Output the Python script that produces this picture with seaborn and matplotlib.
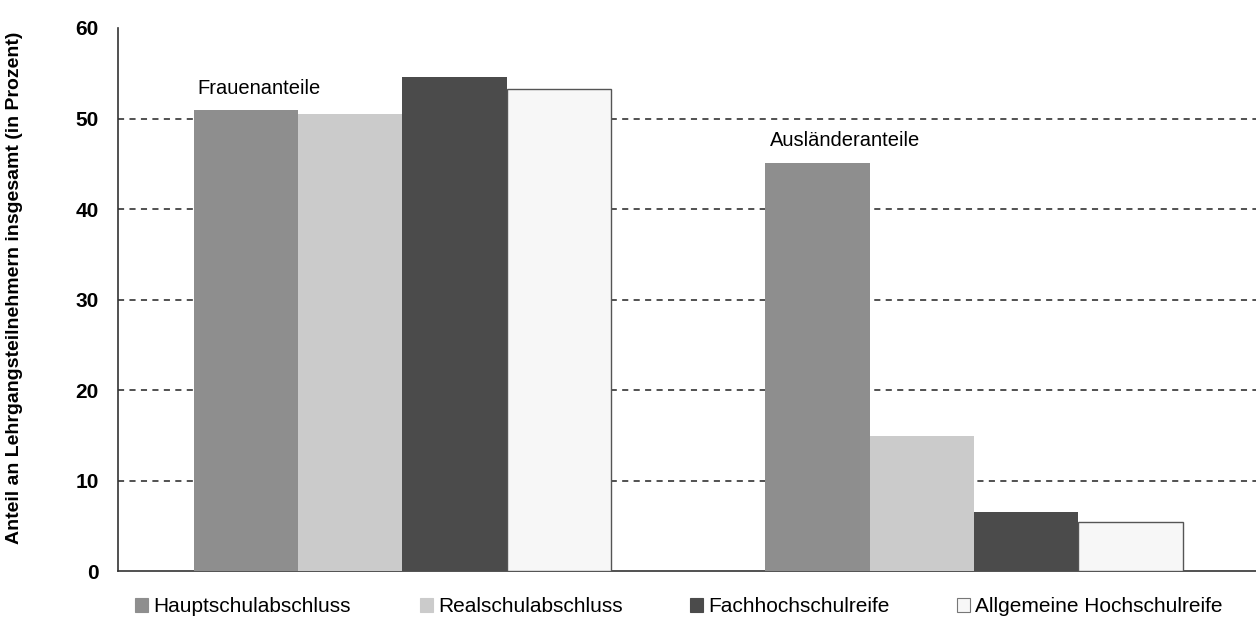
import matplotlib
matplotlib.use("Agg")
import matplotlib.pyplot as plt
from matplotlib.patches import Patch
import pandas as pd
import seaborn as sns

groups = ["Frauenanteile", "Ausländeranteile"]
abschluesse = ["Hauptschulabschluss", "Realschulabschluss",
               "Fachhochschulreife", "Allgemeine Hochschulreife"]
frauen = [50.9, 50.5, 54.6, 53.3]
auslaender = [45.1, 14.9, 6.5, 5.4]
yticks = [0, 10, 20, 30, 40, 50, 60]
ylabel = "Anteil an Lehrgangsteilnehmern insgesamt (in Prozent)"

colors = ["#8e8e8e", "#cbcbcb", "#4b4b4b", "#f7f7f7"]

df = pd.DataFrame({
    "Gruppe": [groups[0]] * 4 + [groups[1]] * 4,
    "Abschluss": abschluesse * 2,
    "Anteil": frauen + auslaender,
})

sns.set_style("white")
plt.rcParams["font.family"] = ["Liberation Sans", "DejaVu Sans"]
plt.rcParams["text.color"] = "black"
plt.rcParams["ytick.color"] = "black"
plt.rcParams["axes.labelcolor"] = "black"

fig = plt.figure(figsize=(12.56, 6.36), dpi=100)
ax = fig.add_axes([0.094, 0.102, 0.906, 0.854])

sns.barplot(data=df, x="Gruppe", y="Anteil", hue="Abschluss",
            hue_order=abschluesse, order=groups, palette=colors,
            width=0.73, gap=0, saturation=1, edgecolor="none",
            linewidth=0, legend=False, ax=ax, zorder=3)

# thin outline on the near-white bars
for bar in ax.containers[3]:
    bar.set_edgecolor("#555555")
    bar.set_linewidth(1.0)

ax.set_xlim(-0.497, 1.493)
ax.set_ylim(0, 60)
ax.set_yticks(yticks)
ax.set_yticklabels([str(t) for t in yticks], fontsize=15, fontweight="bold")
ax.set_xticks([])
ax.set_xlabel("")
ax.set_ylabel(ylabel, fontsize=14, fontweight="bold")
ax.yaxis.set_label_coords(-0.0835, 0.521)

for t in yticks[1:-1]:
    ax.axhline(t, color="#222222", lw=1.1, ls=(0, (4, 3.5)), zorder=1)

for side in ["top", "right"]:
    ax.spines[side].set_visible(False)
ax.spines["left"].set_color("#333333")
ax.spines["bottom"].set_color("#333333")
ax.spines["left"].set_linewidth(1.2)
ax.spines["bottom"].set_linewidth(1.2)
ax.tick_params(axis="y", direction="out", length=8, width=1, color="#333333", pad=6)

# group labels above each cluster
ax.text(-0.358, 53.3, groups[0], fontsize=14.5, ha="left", va="center")
ax.text(0.643, 47.6, groups[1], fontsize=14.5, ha="left", va="center")

# legend entries along the bottom
xs = [0.1077, 0.3346, 0.5496, 0.7622]
for name, col, x in zip(abschluesse, colors, xs):
    h = Patch(facecolor=col, edgecolor="#777777" if col == "#f7f7f7" else col, linewidth=0.8)
    fig.legend([h], [name], loc="center left", bbox_to_anchor=(x, 0.046),
               frameon=False, fontsize=15, handlelength=0.6, handleheight=0.6,
               handletextpad=0.25, borderpad=0, borderaxespad=0)

fig.savefig("out.png", dpi=100)
